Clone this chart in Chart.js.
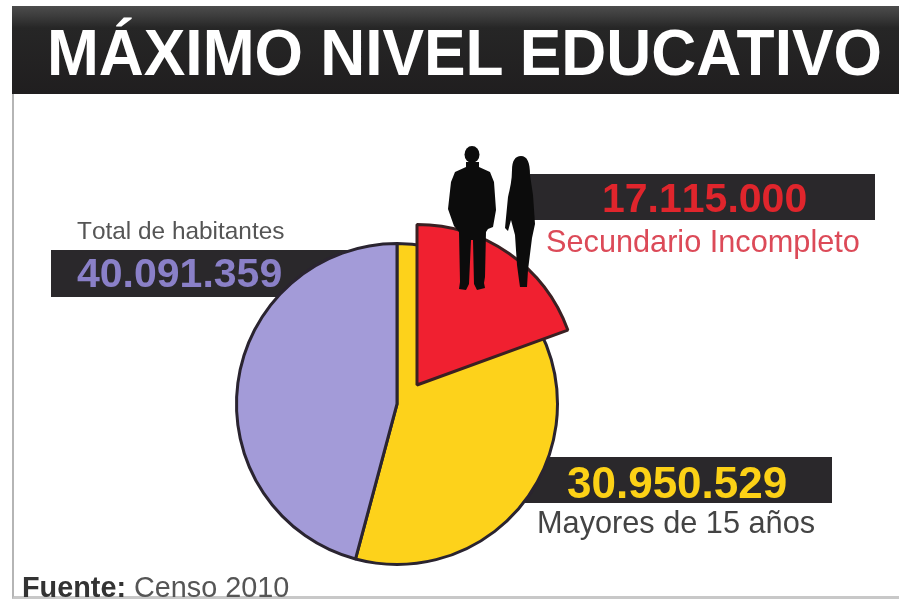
<!DOCTYPE html>
<html>
<head>
<meta charset="utf-8">
<script src="https://cdn.jsdelivr.net/npm/chart.js@4"></script>
<style>
  html, body { margin: 0; background: #fff; }
  #page { position: relative; width: 899px; height: 601px; overflow: hidden; background: #fff;
          font-family: "Liberation Sans", Arial, sans-serif; font-kerning: none; filter: blur(0.6px); }
  #page div, #page span { position: absolute; white-space: nowrap; }
  #frame { left: 12px; top: 94px; width: 887px; height: 505px; border-left: 2px solid #b5b5b5; border-bottom: 3px solid #c8c8c8; box-sizing: border-box; }
  #titleBar { left: 12px; top: 6px; width: 887px; height: 88px; background: linear-gradient(#4c4c4c 0, #3e3e3e 9px, #262626 22px, #201e1f 100%); }
  #title { left: 47px; top: 15px; font-size: 65px; font-weight: bold; color: #fff; font-kerning: normal; transform: scaleX(0.958); transform-origin: left; }
  .box { background: #2a282b; }
  .num { font-weight: bold; font-size: 41px; }
  canvas { position: absolute; }
  #base { left: 227px; top: 234px; }
  #slice { left: 247px; top: 215px; }
  #people { position: absolute; left: 0; top: 0; }
</style>
</head>
<body>
<div id="page">
  <div id="frame"></div>
  <div id="titleBar"></div>
  <div id="title">MÁXIMO NIVEL EDUCATIVO</div>

  <div class="box" style="left:530px;top:174px;width:345px;height:46px"></div>
  <div class="box" style="left:51px;top:250px;width:301px;height:47px"></div>
  <div class="box" style="left:500px;top:457px;width:332px;height:46px"></div>

  <canvas id="base" width="340" height="340"></canvas>
  <canvas id="slice" width="340" height="340"></canvas>

  <svg id="people" width="899" height="601">
    <g fill="#0c0c0c">
      <ellipse cx="472" cy="154.5" rx="7.5" ry="8.5"/>
      <path d="M466 162 L479 162 L479 167 L490 172 L494 182 L496 210 L493 227 L488 229 L486 232 L485 277 L484 283 L485 288 L477 290 L474 284 L473 240 L471 240 L469 284 L466 290 L459 289 L460 282 L459 232 L454 226 L448 209 L451 182 L455 172 L466 167 Z"/>
      <path d="M521 156 C515 156 512 161 512 170 C512 180 510 188 508 197 L505 228 L508 231 L511 220 L515 235 L517 265 L519 280 L520 287 L527 287 L528 270 L532 238 L535 224 L533 195 L530 175 C530 162 527 156 521 156 Z"/>
    </g>
  </svg>

  <span style="left:77px;top:217px;font-size:24.4px;color:#555">Total de habitantes</span>
  <span class="num" style="left:77px;top:250px;color:#8a80c8">40.091.359</span>
  <span class="num" style="left:602px;top:175px;color:#e0252c">17.115.000</span>
  <span style="left:546px;top:224px;font-size:30.7px;color:#dc4a58">Secundario Incompleto</span>
  <span class="num" style="left:567px;top:458px;font-size:44px;color:#fcd116">30.950.529</span>
  <span style="left:537px;top:505px;font-size:30.7px;color:#444">Mayores de 15 años</span>
  <span style="left:22px;top:571px;font-size:28.8px;color:#555"><b style="color:#333">Fuente:</b> Censo 2010</span>
</div>
<script>
// values, as degrees of the circle
const categories = ['Mayores de 15 años', 'Total de habitantes'];
const baseValues = [195, 165];
const baseColors = ['#fdd21b', '#a39bd8'];

const sliceCategories = ['Secundario Incompleto', ''];
const sliceValues = [70, 290];
const sliceColors = ['#f02030', 'rgba(0,0,0,0)'];

const commonOptions = {
  responsive: false,
  animation: false,
  layout: { padding: 8 },
  plugins: { legend: { display: false }, tooltip: { enabled: false } }
};

new Chart(document.getElementById('base'), {
  type: 'pie',
  data: { labels: categories, datasets: [{ data: baseValues, backgroundColor: baseColors, borderColor: '#2a2430', borderWidth: 3 }] },
  options: commonOptions
});

new Chart(document.getElementById('slice'), {
  type: 'pie',
  data: { labels: sliceCategories, datasets: [{ data: sliceValues, backgroundColor: sliceColors, borderColor: ['#3a2022', 'rgba(0,0,0,0)'], borderWidth: [3, 0] }] },
  options: commonOptions
});
</script>
</body>
</html>
